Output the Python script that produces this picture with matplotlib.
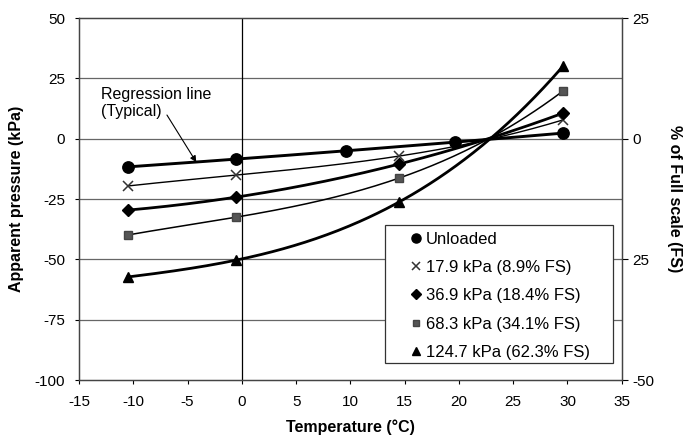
import numpy as np
import matplotlib.pyplot as plt
from matplotlib.patches import Rectangle

plt.rcParams['font.family'] = ['Liberation Sans', 'DejaVu Sans']
plt.rcParams['axes.unicode_minus'] = False

# measured temperatures (deg C) and apparent pressures (kPa)
temp_unloaded = [-10.5, -0.5, 9.6, 19.6, 29.6]
p_unloaded = [-11.7, -8.4, -5.1, -1.4, 2.3]

temp_loaded = [-10.5, -0.5, 14.5, 29.6]
p_179 = [-19.6, -15.1, -7.2, 7.8]
p_369 = [-29.6, -24.2, -10.5, 10.6]
p_683 = [-39.9, -32.5, -16.3, 19.8]
p_1247 = [-57.3, -50.3, -26.2, 30.1]

labels = ["Unloaded", "17.9 kPa (8.9% FS)", "36.9 kPa (18.4% FS)",
          "68.3 kPa (34.1% FS)", "124.7 kPa (62.3% FS)"]

left_ticks = [50, 25, 0, -25, -50, -75, -100]
right_ticks = [50, 0, -50, -100]
right_tick_labels = ["25", "0", "25", "-50"]
x_ticks = [-15, -10, -5, 0, 5, 10, 15, 20, 25, 30, 35]

series = [
    (temp_unloaded, p_unloaded, dict(marker="o", ms=8.2, lw=2.1, mfc="black", mec="black"), 2),
    (temp_loaded, p_179, dict(marker="x", ms=7.5, lw=1.0, mew=1.1, mec="#333333"), 3),
    (temp_loaded, p_369, dict(marker="D", ms=6.5, lw=2.0, mfc="black", mec="black"), 3),
    (temp_loaded, p_683, dict(marker="s", ms=6, lw=1.1, mfc="#555555", mec="#444444"), 3),
    (temp_loaded, p_1247, dict(marker="^", ms=7.5, lw=2.0, mfc="black", mec="black"), 3),
]

fig = plt.figure(figsize=(6.89, 4.36), dpi=100)
ax = fig.add_axes([0.1147, 0.1284, 0.7877, 0.8303])

for y in [25, 0, -25, -50, -75]:
    ax.axhline(y, color="#666666", lw=0.9, zorder=1)
ax.axvline(0, color="black", lw=0.9, zorder=1)

handles = []
for (xs, ys, style, deg), lab in zip(series, labels):
    # smooth curve through the measured points
    coef = np.polyfit(xs, ys, deg)
    xf = np.linspace(min(xs), max(xs), 200)
    ax.plot(xf, np.polyval(coef, xf), color="black", lw=style["lw"], zorder=2)
    mstyle = {k: v for k, v in style.items() if k != "lw"}
    h, = ax.plot(xs, ys, linestyle="none", color="black", zorder=3, label=lab, **mstyle)
    handles.append(h)

ax.set_xlim(-15, 35)
ax.set_ylim(-100, 50)
ax.set_xticks(x_ticks)
ax.set_yticks(left_ticks)
ax.tick_params(direction="out", length=3, width=0.8, labelsize=11, colors="black")
ax.tick_params(axis="x", pad=8)
ax.tick_params(axis="y", pad=7)
for s in ax.spines.values():
    s.set_color("#444444")
    s.set_linewidth(0.9)

ax.set_xlabel("Temperature (°C)", fontsize=11.5, fontweight="bold", labelpad=7)
ax.set_ylabel("Apparent pressure (kPa)", fontsize=11.5, fontweight="bold")
ax.yaxis.set_label_coords(-0.101, 0.5)

ax2 = ax.twinx()
ax2.set_ylim(-100, 50)
ax2.set_yticks(right_ticks)
ax2.set_yticklabels(right_tick_labels)
ax2.tick_params(direction="out", length=4, width=0.8, labelsize=11)
ax2.set_ylabel("% of Full scale (FS)", fontsize=11.5, fontweight="bold",
               rotation=270, labelpad=20)
for s in ax2.spines.values():
    s.set_color("#444444")
    s.set_linewidth(0.9)

ax.annotate("Regression line\n(Typical)", xy=(-13.0, 21.5), fontsize=11.5,
            va="top", ha="left", zorder=4)
ax.annotate("", xy=(-4.2, -9.7), xytext=(-6.9, 9.8),
            arrowprops=dict(arrowstyle="-|>", color="black", lw=0.8,
                            shrinkA=0, shrinkB=0, mutation_scale=9), zorder=4)

# legend frame drawn separately so the markers sit inset like the original
ax2.add_patch(Rectangle((0.564, 0.047), 0.42, 0.381, transform=ax.transAxes,
                        facecolor="white", edgecolor="#333333", lw=0.9, zorder=4))
leg = ax2.legend(handles=handles, loc="upper left", bbox_to_anchor=(0.61, 0.41),
                 bbox_transform=ax.transAxes, borderaxespad=0, borderpad=0,
                 fontsize=12, frameon=False, handlelength=0.7, handletextpad=0.25,
                 labelspacing=0.8, markerscale=0.8)
leg.set_zorder(5)

fig.savefig("out.png", dpi=100)
